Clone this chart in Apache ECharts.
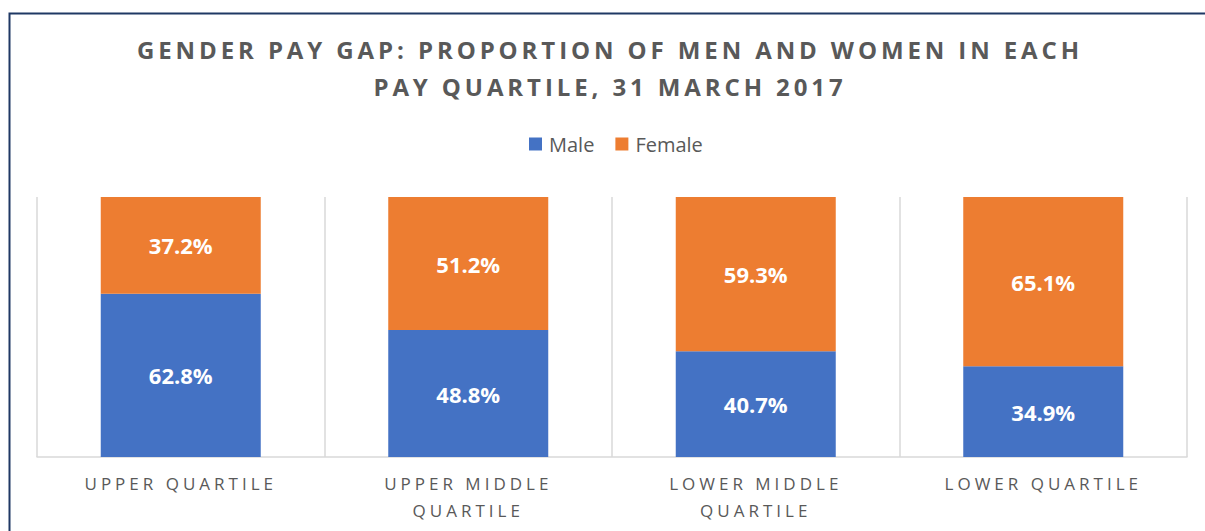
<!DOCTYPE html>
<html>
<head>
<meta charset="utf-8">
<script src="https://cdn.jsdelivr.net/npm/echarts@6/dist/echarts.min.js"></script>
<style>
html,body{margin:0;padding:0;background:#fff;}
#chart{width:1205px;height:531px;}
#chart svg text[style*="24px"]{letter-spacing:3.9px;}
#chart svg text[style*="17px"]{letter-spacing:4px;}
</style>
</head>
<body>
<div id="chart"></div>
<script>
const categories = ['UPPER QUARTILE', 'UPPER MIDDLE\nQUARTILE', 'LOWER MIDDLE\nQUARTILE', 'LOWER QUARTILE'];
const maleValues = [62.8, 48.8, 40.7, 34.9];
const femaleValues = [37.2, 51.2, 59.3, 65.1];
const titleText = 'GENDER PAY GAP: PROPORTION OF MEN AND WOMEN IN EACH\nPAY QUARTILE, 31 MARCH 2017';

const chart = echarts.init(document.getElementById('chart'), null, {renderer: 'svg'});
const labelStyle = {
  show: true, position: 'inside', color: '#fff', fontSize: 22, fontWeight: 'bold',
  fontFamily: 'Open Sans', formatter: p => p.value.toFixed(1) + '%'
};
chart.setOption({
  animation: false,
  graphic: [{
    type: 'rect', left: 7, top: 11, silent: true,
    shape: {width: 1400, height: 700},
    style: {fill: 'none', stroke: '#1F3864', lineWidth: 2}
  }],
  title: {
    text: titleText, left: 605, textAlign: 'center', top: 26,
    textStyle: {fontSize: 24, fontWeight: 'bold', color: '#595959', fontFamily: 'Open Sans', lineHeight: 37}
  },
  legend: {
    top: 129, left: 524, itemWidth: 13, itemHeight: 13, itemGap: 21, icon: 'rect',
    textStyle: {fontSize: 20, color: '#595959', fontFamily: 'Open Sans', padding: [0, 0, 0, 2]}
  },
  grid: {left: 37, right: 18, top: 197, bottom: 74},
  xAxis: {
    type: 'category', data: categories,
    axisLine: {lineStyle: {color: '#D9D9D9', width: 1.5}},
    axisTick: {show: false},
    splitLine: {show: true, lineStyle: {color: '#D9D9D9', width: 1.5}},
    axisLabel: {color: '#595959', fontSize: 17, fontFamily: 'Open Sans', lineHeight: 27, margin: 13, interval: 0}
  },
  yAxis: {type: 'value', min: 0, max: 100, show: false, splitLine: {show: false}},
  series: [
    {name: 'Male', type: 'bar', stack: 'total', data: maleValues, barWidth: 160,
     itemStyle: {color: '#4472C4'}, label: labelStyle},
    {name: 'Female', type: 'bar', stack: 'total', data: femaleValues, barWidth: 160,
     itemStyle: {color: '#ED7D31'}, label: labelStyle}
  ]
});
</script>
</body>
</html>
